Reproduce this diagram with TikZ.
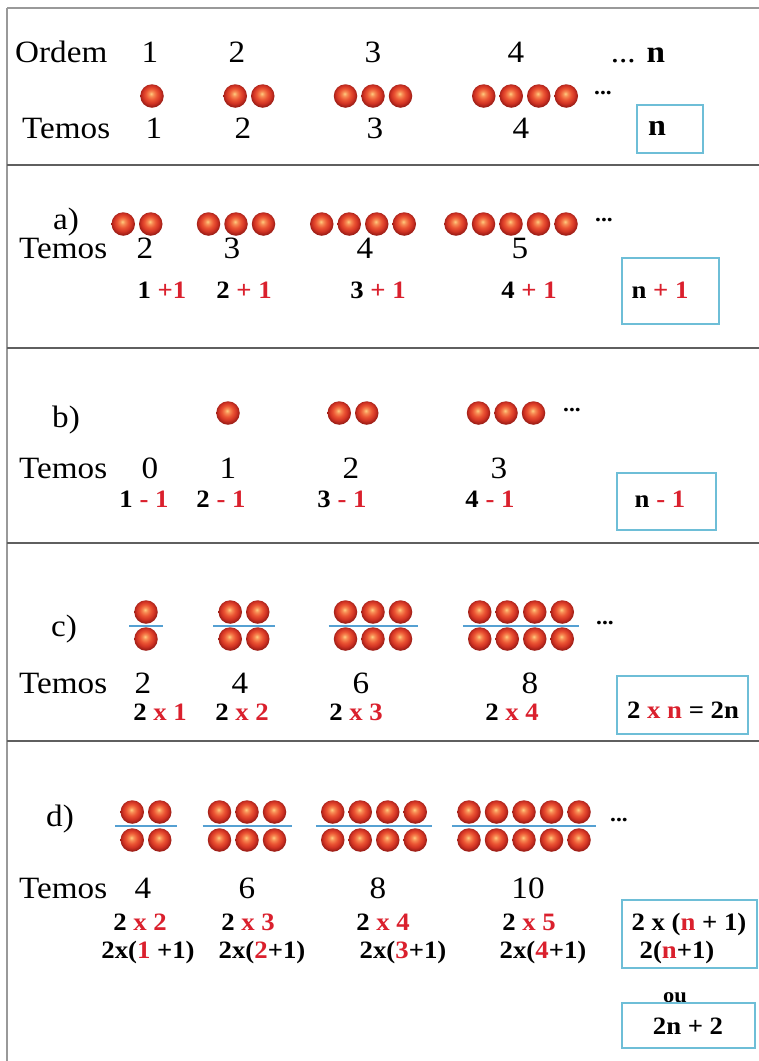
\documentclass[tikz,border=0pt]{standalone}
\usepackage{fontspec}
\setmainfont{Liberation Serif}[FakeStretch=1.07]
\usetikzlibrary{positioning}
\definecolor{hi}{RGB}{218,32,45}
\definecolor{boxblue}{RGB}{110,190,215}
\definecolor{barblue}{RGB}{85,160,210}
\definecolor{rulegray}{RGB}{95,95,95}
% glossy red-orange bead
\pgfdeclareradialshading{beadshade}{\pgfpoint{-2bp}{5bp}}{%
  rgb(0bp)=(1,0.80,0.50); rgb(5bp)=(0.97,0.55,0.33);
  rgb(12bp)=(0.92,0.33,0.20); rgb(19bp)=(0.82,0.20,0.14);
  rgb(25bp)=(0.62,0.12,0.09); rgb(50bp)=(0.55,0.10,0.08)}

\begin{document}
\begin{tikzpicture}[x=1pt, y=-1pt,
  bead/.style={circle, inner sep=0pt, minimum size=23.5pt, shading=beadshade},
  num/.style={font=\fontsize{31}{31}\selectfont, anchor=base, inner sep=0pt},
  frm/.style={font=\fontsize{25}{25}\selectfont\bfseries, anchor=base, inner sep=0pt},
  moredots/.style={font=\fontsize{22}{22}\selectfont\bfseries, inner sep=0pt},
  ansbox/.style={draw=boxblue, line width=1.3pt},
  bar/.style={draw=barblue, line width=1.6pt},
  divider/.style={draw=rulegray, line width=2.6pt},
  edge/.style={draw=gray!80, line width=1.6pt}
]
\useasboundingbox (0,0) rectangle (759,1061);
% ── Frame ─────────────────────────────
\draw[edge] (7,8) -- (759,8);
\draw[edge] (7,8) -- (7,1061);
\foreach \y in {165,348,543,741}
  \draw[divider] (7,\y) -- (759,\y);
% ── Order / terms ─────────────────────
\node[num, anchor=base west] (ordem) at (15,62) {Ordem};
\foreach \x/\t [count=\i] in {150/1, 237/2, 373/3, 516/4}
  \node[num] (ord-\i) at (\x,62) {\t};
\node[num] (ord-n) at (638,62) {... \textbf{n}};
\foreach \cx/\m [count=\g] in {152/1, 249/2, 373/3, 525/4}
  \foreach \i in {1,...,\m}
    \node[bead] (o-\g-\i) at ({\cx+(\i-(\m+1)/2)*27.5}, 96) {};
\node[moredots] (o-dots) at (603,93) {...};
\node[num, anchor=base west] (o-temos) at (22,138) {Temos};
\foreach \x/\t [count=\i] in {154/1, 243/2, 375/3, 521/4}
  \node[num] (o-t-\i) at (\x,138) {\t};
\draw[ansbox] (637,105) rectangle (703,153);
\node[frm, font=\fontsize{30}{30}\selectfont\bfseries] (o-ans) at (657,135) {n};
% ── a) ────────────────────────────────
\node[num] (a-lbl) at (66,229) {a)};
\foreach \cx/\m [count=\g] in {137/2, 236/3, 363/4, 511/5}
  \foreach \i in {1,...,\m}
    \node[bead] (a-\g-\i) at ({\cx+(\i-(\m+1)/2)*27.5}, 224) {};
\node[moredots] (a-dots) at (604,220) {...};
\node[num, anchor=base west] (a-temos) at (19,258) {Temos};
\foreach \x/\t [count=\i] in {145/2, 232/3, 365/4, 520/5}
  \node[num] (a-t-\i) at (\x,258) {\t};
\node[frm] (a-f-1) at (162,298) {1 \textcolor{hi}{+1}};
\node[frm] (a-f-2) at (244,298) {2 \textcolor{hi}{+ 1}};
\node[frm] (a-f-3) at (378,298) {3 \textcolor{hi}{+ 1}};
\node[frm] (a-f-4) at (529,298) {4 \textcolor{hi}{+ 1}};
\draw[ansbox] (622,258) rectangle (719,324);
\node[frm] (a-ans) at (660,298) {n \textcolor{hi}{+ 1}};
% ── b) ────────────────────────────────
\node[num] (b-lbl) at (66,427) {b)};
\foreach \cx/\m [count=\g] in {228/1, 353/2, 506/3}
  \foreach \i in {1,...,\m}
    \node[bead] (b-\g-\i) at ({\cx+(\i-(\m+1)/2)*27.5}, 413) {};
\node[moredots] (b-dots) at (572,410) {...};
\node[num, anchor=base west] (b-temos) at (19,478) {Temos};
\foreach \x/\t [count=\i] in {150/0, 228/1, 351/2, 499/3}
  \node[num] (b-t-\i) at (\x,478) {\t};
\foreach \x/\t [count=\i] in {144/1, 221/2, 342/3, 490/4}
  \node[frm] (b-f-\i) at (\x,507) {\t\ \textcolor{hi}{- 1}};
\draw[ansbox] (617,473) rectangle (716,530);
\node[frm] (b-ans) at (660,507) {n \textcolor{hi}{- 1}};
% ── c) ────────────────────────────────
\node[num] (c-lbl) at (64,636) {c)};
\foreach \cx/\m [count=\g] in {146/1, 244/2, 373/3, 521/4} {
  \foreach \i in {1,...,\m} {
    \node[bead] (c-\g-\i-up) at ({\cx+(\i-(\m+1)/2)*27.5}, 612) {};
    \node[bead] (c-\g-\i-dn) at ({\cx+(\i-(\m+1)/2)*27.5}, 639) {};
  }
  \draw[bar] ({\cx-(\m-1)*13.75-17},626) -- ({\cx+(\m-1)*13.75+17},626);
}
\node[moredots] (c-dots) at (605,623) {...};
\node[num, anchor=base west] (c-temos) at (19,693) {Temos};
\foreach \x/\t [count=\i] in {143/2, 240/4, 361/6, 530/8}
  \node[num] (c-t-\i) at (\x,693) {\t};
\foreach \x/\t [count=\i] in {160/1, 242/2, 356/3, 512/4}
  \node[frm] (c-f-\i) at (\x,720) {2 \textcolor{hi}{x \t}};
\draw[ansbox] (617,676) rectangle (748,734);
\node[frm] (c-ans) at (683,718) {2 \textcolor{hi}{x n} = 2n};
% ── d) ────────────────────────────────
\node[num] (d-lbl) at (60,826) {d)};
\foreach \cx/\m [count=\g] in {146/2, 247/3, 374/4, 524/5} {
  \foreach \i in {1,...,\m} {
    \node[bead] (d-\g-\i-up) at ({\cx+(\i-(\m+1)/2)*27.5}, 812) {};
    \node[bead] (d-\g-\i-dn) at ({\cx+(\i-(\m+1)/2)*27.5}, 840) {};
  }
  \draw[bar] ({\cx-(\m-1)*13.75-17},826) -- ({\cx+(\m-1)*13.75+17},826);
}
\node[moredots] (d-dots) at (619,820) {...};
\node[num, anchor=base west] (d-temos) at (19,898) {Temos};
\foreach \x/\t [count=\i] in {143/4, 247/6, 378/8, 528/10}
  \node[num] (d-t-\i) at (\x,898) {\t};
\foreach \x/\t [count=\i] in {140/2, 248/3, 383/4, 529/5}
  \node[frm] (d-f-\i) at (\x,930) {2 \textcolor{hi}{x \t}};
\node[frm] (d-g-1) at (148,958) {2x(\textcolor{hi}{1} +1)};
\foreach \x/\t [count=\i from 2] in {262/2, 403/3, 543/4}
  \node[frm] (d-g-\i) at (\x,958) {2x(\textcolor{hi}{\t}+1)};
\draw[ansbox] (622,900) rectangle (757,968);
\node[frm] (d-ans-1) at (689,930) {2 x (\textcolor{hi}{n} + 1)};
\node[frm] (d-ans-2) at (677,958) {2(\textcolor{hi}{n}+1)};
\node[frm, font=\fontsize{21}{21}\selectfont\bfseries] (d-ou) at (675,1002) {ou};
\draw[ansbox] (622,1003) rectangle (755,1048);
\node[frm] (d-ans-3) at (688,1034) {2n + 2};
\end{tikzpicture}
\end{document}
